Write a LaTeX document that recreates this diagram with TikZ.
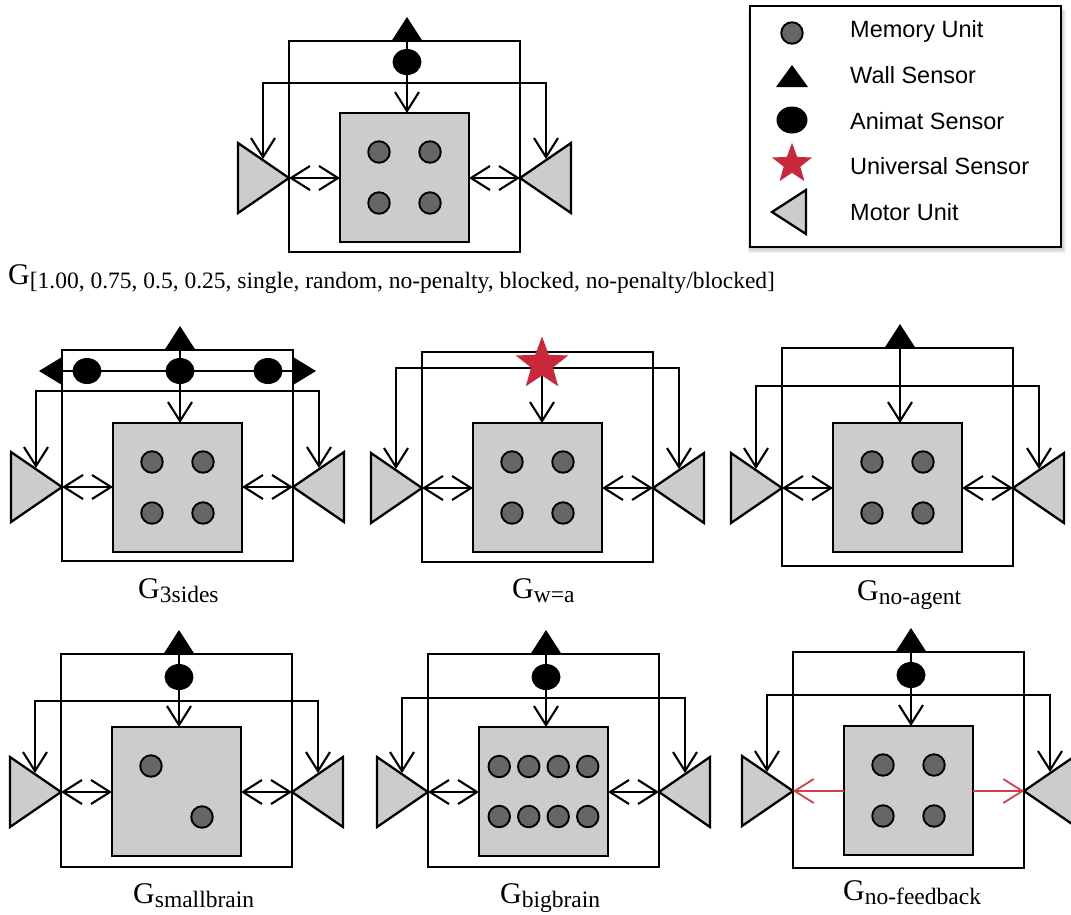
\documentclass[tikz,border=0pt]{standalone}
\usepackage{fontspec}
\setmainfont{Liberation Sans}
\newfontfamily\capfont{Liberation Serif}
\usetikzlibrary{arrows.meta,shapes.geometric}

\definecolor{brainfill}{HTML}{CCCCCC}
\definecolor{memfill}{HTML}{666666}
\definecolor{motorfill}{HTML}{CCCCCC}
\definecolor{starred}{HTML}{C8283A}
\definecolor{nofbred}{HTML}{D2404A}

\tikzset{
  frame/.style={draw=black, line width=2.7pt},
  brainbox/.style={rectangle, draw=black, fill=brainfill, line width=2.7pt,
    minimum width=129pt, minimum height=129pt, inner sep=0pt, outer sep=0pt},
  memunit/.style={circle, draw=black, fill=memfill, line width=1.9pt,
    minimum size=21.5pt, inner sep=0pt},
  motor/.style={draw=black, fill=motorfill, line width=2.3pt, line join=miter},
  animat/.style={ellipse, fill=black, minimum width=29pt, minimum height=26pt,
    inner sep=0pt},
  wire/.style={draw=black, line width=2.1pt,
    >={Straight Barb[length=19pt, width=24pt]}},
  redwire/.style={draw=nofbred, line width=1.8pt,
    >={Straight Barb[length=19pt, width=24pt]}},
  unistar/.style={star, star points=5, star point ratio=2.4, fill=starred,
    inner sep=0pt},
  legtext/.style={anchor=base west, inner sep=0pt,
    font=\fontsize{23.5}{28}\selectfont},
}

% frame of one animat: outer box, brain, two motors, sensor-to-motor wires
% #1 name, #2 box height, #3 brain top, #4 motor tip y, #5 feedback wire y
\newcommand\gframe[5]{%
  \draw[frame] (0,0) rectangle (231,#2);
  \node[brainbox] (#1-brain) at (115.5,#3+64.5) {};
  \coordinate (#1-lt) at (0,#4);
  \coordinate (#1-rt) at (231,#4);
  \path[motor] (#1-lt) -- ++(-51,-35) -- ++(0,70) -- cycle;
  \path[motor] (#1-rt) -- ++(51,-35) -- ++(0,70) -- cycle;
  \coordinate (#1-lf) at (-26,#4-19);
  \coordinate (#1-rf) at (257,#4-19);
  \draw[wire,<->] (#1-lf) -- (-26,#5) -- (257,#5) -- (#1-rf);
}
% two-way links between brain and motors
\newcommand\gbothways[1]{%
  \draw[wire,<->] (#1-lt) -- (#1-lt -| #1-brain.west);
  \draw[wire,<->] (#1-brain.east |- #1-rt) -- (#1-rt);
}
% 2x2 block of memory units
\newcommand\memquad[1]{%
  \foreach \dx/\dy/\k in {-25.5/-25.5/1, 25.5/-25.5/2, -25.5/25.5/3, 25.5/25.5/4}
    \node[memunit] (#1-m\k) at ([shift={(\dx,\dy)}]#1-brain.center) {};
}
% wall sensor on the top edge, with its wire down to the brain
\newcommand\wallwire[1]{%
  \coordinate (#1-wall) at (118,-10);
  \draw[wire,->] (#1-wall) -- (#1-brain.north -| #1-wall);
}
\newcommand\wallsensor[1]{%
  \fill[black] (102.5,0) -- (118,-24) -- (133.5,0) -- cycle;
}
% caption G_{...}
\newcommand\gcap[4]{%
  \node[anchor=base west, inner sep=0pt] (#1) at (#2,#3)
    {\capfont{\fontsize{30}{30}\selectfont G}\raisebox{-4.5pt}{\fontsize{23.5}{28}\selectfont #4}};
}

\begin{document}
\begin{tikzpicture}[x=1pt,y=-1pt]
\useasboundingbox (0,0) rectangle (1071,914);
\clip (0,0) rectangle (1071,914);

% ---------- base animat ----------
\begin{scope}[shift={(289,41)}]
  \gframe{ga}{211}{72}{137}{42}
  \gbothways{ga}
  \memquad{ga}
  \wallwire{ga}
  \wallsensor{ga}
  \node[animat] (ga-an) at (118,21) {};
\end{scope}
\gcap{cap-ga}{8}{284}{[1.00, 0.75, 0.5, 0.25, single, random, no-penalty, blocked, no-penalty/blocked]}

% ---------- legend ----------
\foreach \s in {1,...,5}
  \fill[black, opacity=0.05] (750-0.5*\s,6+\s) rectangle (1061+\s,247+1.2*\s);
\node[draw=black, fill=white, line width=2.2pt, minimum width=311pt,
  minimum height=241pt, inner sep=0pt] (legend) at (905.5,126.5) {};
\node[memunit] (lg-mem) at (792,33) {};
\fill[black] (776,87) -- (792,65) -- (808,87) -- cycle;
\coordinate (lg-wall) at (792,80);
\node[animat, minimum width=31pt, minimum height=27pt] (lg-an) at (792,120) {};
\node[unistar, minimum size=42pt] (lg-star) at (792,164) {};
\coordinate (lg-motor) at (772,212);
\path[motor] (lg-motor) -- (806,190) -- (806,234) -- cycle;
\node[legtext] (lt-mem) at (850,37) {Memory Unit};
\node[legtext] (lt-wall) at (850,83) {Wall Sensor};
\node[legtext] (lt-an) at (850,129) {Animat Sensor};
\node[legtext] (lt-star) at (850,174) {Universal Sensor};
\node[legtext] (lt-motor) at (850,220) {Motor Unit};

% ---------- three-sided sensors ----------
\begin{scope}[shift={(62,350)}]
  \gframe{g3}{211}{73}{137}{41}
  \gbothways{g3}
  \memquad{g3}
  \wallwire{g3}
  \coordinate (g3-sl) at (0,21);
  \coordinate (g3-sr) at (231,21);
  \draw[wire] (g3-sl) -- (g3-sr);
  \fill[black] (0,7) -- (-23,21) -- (0,35) -- cycle;
  \fill[black] (231,7) -- (254,21) -- (231,35) -- cycle;
  \wallsensor{g3}
  \node[animat] (g3-an1) at (25,21) {};
  \node[animat] (g3-an2) at (118,21) {};
  \node[animat] (g3-an3) at (206,21) {};
\end{scope}
\gcap{cap-g3}{138}{598}{3sides}

% ---------- universal sensor ----------
\begin{scope}[shift={(422,352)}]
  \gframe{gw}{210}{71}{136}{16}
  \gbothways{gw}
  \memquad{gw}
  \coordinate (gw-s) at (120,12);
  \draw[wire,->] (gw-s) -- (gw-brain.north -| gw-s);
  \node[unistar, minimum size=55pt] (gw-star) at (gw-s) {};
\end{scope}
\gcap{cap-gw}{512}{598}{w=a}

% ---------- no agent sensor ----------
\begin{scope}[shift={(782,348)}]
  \gframe{gn}{218}{75}{140}{38}
  \gbothways{gn}
  \memquad{gn}
  \wallwire{gn}
  \wallsensor{gn}
\end{scope}
\gcap{cap-gn}{857}{600}{no-agent}

% ---------- small brain ----------
\begin{scope}[shift={(61,654)}]
  \gframe{gs}{213}{73}{138}{47}
  \gbothways{gs}
  \node[memunit] (gs-m1) at ([shift={(-25.5,-25.5)}]gs-brain.center) {};
  \node[memunit] (gs-m4) at ([shift={(25.5,25.5)}]gs-brain.center) {};
  \wallwire{gs}
  \wallsensor{gs}
  \node[animat] (gs-an) at (118,23) {};
\end{scope}
\gcap{cap-gs}{133}{903}{smallbrain}

% ---------- big brain ----------
\begin{scope}[shift={(428,654)}]
  \gframe{gb}{213}{73}{138}{44}
  \gbothways{gb}
  \foreach \dx/\k in {-44.25/1, -14.75/2, 14.75/3, 44.25/4}{
    \node[memunit] (gb-t\k) at ([shift={(\dx,-25)}]gb-brain.center) {};
    \node[memunit] (gb-b\k) at ([shift={(\dx,25)}]gb-brain.center) {};
  }
  \wallwire{gb}
  \wallsensor{gb}
  \node[animat] (gb-an) at (118,23) {};
\end{scope}
\gcap{cap-gb}{500}{903}{bigbrain}

% ---------- no feedback ----------
\begin{scope}[shift={(793,652)}]
  \gframe{gf}{216}{74}{139}{43}
  \draw[redwire,->] (gf-brain.west |- gf-lt) -- (gf-lt);
  \draw[redwire,->] (gf-brain.east |- gf-rt) -- (gf-rt);
  \memquad{gf}
  \wallwire{gf}
  \wallsensor{gf}
  \node[animat] (gf-an) at (118,23) {};
\end{scope}
\gcap{cap-gf}{843}{900}{no-feedback}

\end{tikzpicture}
\end{document}
